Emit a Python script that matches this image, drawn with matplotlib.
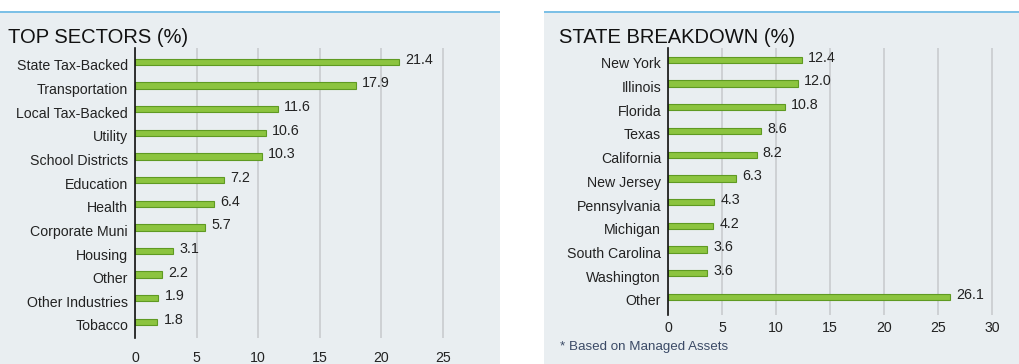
import matplotlib.pyplot as plt
import matplotlib.transforms as mtransforms
from matplotlib.patches import Rectangle

plt.rcParams['font.family'] = ['Liberation Sans', 'DejaVu Sans']

# data
sectors = ['State Tax-Backed', 'Transportation', 'Local Tax-Backed', 'Utility',
           'School Districts', 'Education', 'Health', 'Corporate Muni',
           'Housing', 'Other', 'Other Industries', 'Tobacco']
sector_vals = [21.4, 17.9, 11.6, 10.6, 10.3, 7.2, 6.4, 5.7, 3.1, 2.2, 1.9, 1.8]
sector_ticks = [0, 5, 10, 15, 20, 25]

states = ['New York', 'Illinois', 'Florida', 'Texas', 'California', 'New Jersey',
          'Pennsylvania', 'Michigan', 'South Carolina', 'Washington', 'Other']
state_vals = [12.4, 12.0, 10.8, 8.6, 8.2, 6.3, 4.3, 4.2, 3.6, 3.6, 26.1]
state_ticks = [0, 5, 10, 15, 20, 25, 30]

W, H = 1020, 364
BG = '#e9eef1'
GREEN = '#8cc43f'
EDGE = '#5f9a22'

fig = plt.figure(figsize=(W / 100, H / 100), dpi=100)
fig.patch.set_facecolor('white')


def px(x0, y0, x1, y1):
    # pixel box (top-left origin) -> figure fraction rect
    return [x0 / W, 1 - y1 / H, (x1 - x0) / W, (y1 - y0) / H]


# panel backgrounds and top blue lines
for x0, x1 in [(0, 500), (544, 1020)]:
    fig.patches.append(Rectangle((x0 / W, 0), (x1 - x0) / W, 1 - 12 / H,
                                 transform=fig.transFigure, facecolor=BG,
                                 edgecolor='none', zorder=-2))
    fig.patches.append(Rectangle((x0 / W, 1 - 13 / H), (x1 - x0) / W, 2 / H,
                                 transform=fig.transFigure, facecolor='#7cc0e6',
                                 edgecolor='none', zorder=-1))


def draw(ax, labels, vals, ticks, xmax, ylim, pad):
    y = list(range(len(labels)))
    ax.set_facecolor('none')
    ax.barh(y, vals, height=0.27, color=GREEN, edgecolor=EDGE, linewidth=0.8, zorder=3)
    for yi, v in zip(y, vals):
        ax.annotate(f'{v:.1f}', (v, yi), xytext=(4.5, 1.5), textcoords='offset points',
                    ha='left', va='center', fontsize=10.3, color='#222222')
    ax.set_xlim(0, xmax)
    ax.set_ylim(*ylim)
    ax.set_xticks(ticks)
    ax.set_yticks(y)
    ax.set_yticklabels(labels)
    ax.tick_params(axis='both', length=0, labelsize=10.2, colors='#222222')
    ax.tick_params(axis='x', pad=pad)
    ax.tick_params(axis='y', pad=5)
    off = mtransforms.ScaledTranslation(0, -3 / 100, fig.dpi_scale_trans)
    for lab in ax.get_yticklabels():
        lab.set_transform(lab.get_transform() + off)
    ax.grid(axis='x', color='#c9cccf', linewidth=1.2, zorder=0)
    for s in ['top', 'right', 'bottom']:
        ax.spines[s].set_visible(False)
    ax.spines['left'].set_color('#111111')
    ax.spines['left'].set_linewidth(1.2)
    ax.spines['left'].set_zorder(4)


ax1 = fig.add_axes(px(135, 48, 499, 338))
draw(ax1, sectors, sector_vals, sector_ticks, (499 - 135) / 12.32, (11.68, -0.59), 9)

ax2 = fig.add_axes(px(668, 48, 1018, 315))
draw(ax2, states, state_vals, state_ticks, (1018 - 668) / 10.8, (10.76, -0.5), 4)

fig.text(8 / W, 1 - 43 / H, 'TOP SECTORS (%)', fontsize=14.5, color='#111111',
         ha='left', va='baseline')
fig.text(559 / W, 1 - 43 / H, 'STATE BREAKDOWN (%)', fontsize=14.5, color='#111111',
         ha='left', va='baseline')
fig.text(560 / W, 1 - 347 / H, '* Based on Managed Assets', fontsize=9.6,
         color='#3b4a66', ha='left', va='center')

fig.savefig('out.png', dpi=100, facecolor='white')
